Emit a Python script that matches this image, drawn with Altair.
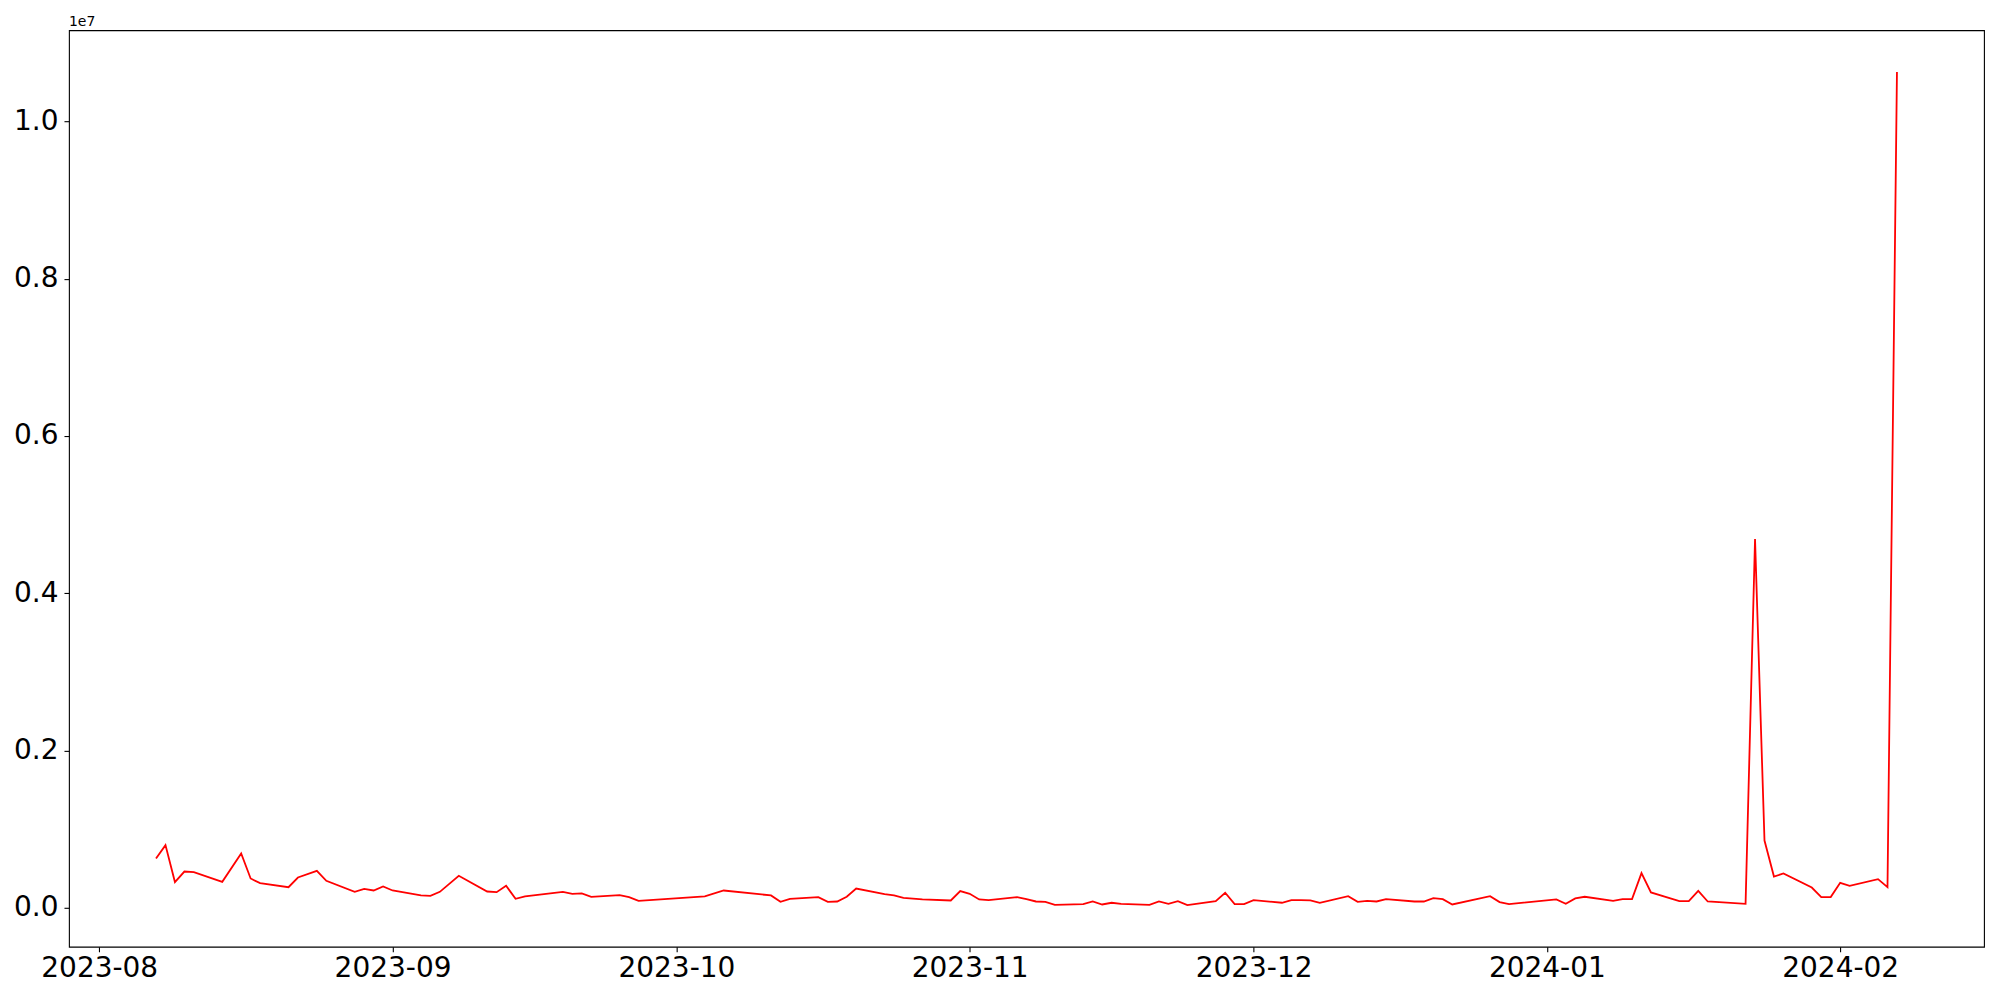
import altair as alt
import pandas as pd

dates = [
    "2023-08-07", "2023-08-08", "2023-08-09", "2023-08-10", "2023-08-11", "2023-08-14",
    "2023-08-16", "2023-08-17", "2023-08-18", "2023-08-21", "2023-08-22", "2023-08-24",
    "2023-08-25", "2023-08-28", "2023-08-29", "2023-08-30", "2023-08-31", "2023-09-01",
    "2023-09-04", "2023-09-05", "2023-09-06", "2023-09-08", "2023-09-11", "2023-09-12",
    "2023-09-13", "2023-09-14", "2023-09-15", "2023-09-19", "2023-09-20", "2023-09-21",
    "2023-09-22", "2023-09-25", "2023-09-26", "2023-09-27", "2023-10-04", "2023-10-06",
    "2023-10-11", "2023-10-12", "2023-10-13", "2023-10-16", "2023-10-17", "2023-10-18",
    "2023-10-19", "2023-10-20", "2023-10-23", "2023-10-24", "2023-10-25", "2023-10-27",
    "2023-10-30", "2023-10-31", "2023-11-01", "2023-11-02", "2023-11-03", "2023-11-06",
    "2023-11-07", "2023-11-08", "2023-11-09", "2023-11-10", "2023-11-13", "2023-11-14",
    "2023-11-15", "2023-11-16", "2023-11-17", "2023-11-20", "2023-11-21", "2023-11-22",
    "2023-11-23", "2023-11-24", "2023-11-27", "2023-11-28", "2023-11-29", "2023-11-30",
    "2023-12-01", "2023-12-04", "2023-12-05", "2023-12-06", "2023-12-07", "2023-12-08",
    "2023-12-11", "2023-12-12", "2023-12-13", "2023-12-14", "2023-12-15", "2023-12-18",
    "2023-12-19", "2023-12-20", "2023-12-21", "2023-12-22", "2023-12-26", "2023-12-27",
    "2023-12-28", "2024-01-02", "2024-01-03", "2024-01-04", "2024-01-05", "2024-01-08",
    "2024-01-09", "2024-01-10", "2024-01-11", "2024-01-12", "2024-01-15", "2024-01-16",
    "2024-01-17", "2024-01-18", "2024-01-22", "2024-01-23", "2024-01-24", "2024-01-25",
    "2024-01-26", "2024-01-29", "2024-01-30", "2024-01-31", "2024-02-01", "2024-02-02",
    "2024-02-05", "2024-02-06", "2024-02-07",
]

values_millions = [
    0.626, 0.797, 0.327, 0.461, 0.453, 0.330,
    0.690, 0.373, 0.313, 0.262, 0.385, 0.470,
    0.343, 0.203, 0.241, 0.220, 0.271, 0.220,
    0.157, 0.152, 0.203, 0.407, 0.207, 0.199,
    0.280, 0.114, 0.144, 0.203, 0.178, 0.182,
    0.140, 0.161, 0.136, 0.089, 0.144, 0.220,
    0.157, 0.076, 0.114, 0.136, 0.076, 0.080,
    0.140, 0.245, 0.174, 0.157, 0.127, 0.106,
    0.093, 0.212, 0.178, 0.106, 0.098, 0.136,
    0.110, 0.080, 0.076, 0.038, 0.047, 0.080,
    0.042, 0.064, 0.051, 0.038, 0.080, 0.051,
    0.085, 0.034, 0.085, 0.191, 0.047, 0.047,
    0.098, 0.064, 0.098, 0.098, 0.093, 0.064,
    0.148, 0.076, 0.089, 0.080, 0.110, 0.080,
    0.080, 0.123, 0.110, 0.042, 0.148, 0.072,
    0.047, 0.106, 0.051, 0.119, 0.140, 0.089,
    0.110, 0.110, 0.441, 0.195, 0.085, 0.085,
    0.216, 0.080, 0.051, 4.690, 0.855, 0.398,
    0.436, 0.258, 0.136, 0.136, 0.318, 0.280,
    0.364, 0.263, 10.630,
]

x_tick_dates = ["2023-08-01", "2023-09-01", "2023-10-01", "2023-11-01",
                "2023-12-01", "2024-01-01", "2024-02-01"]
y_tick_values = [0, 2e6, 4e6, 6e6, 8e6, 10e6]


def ms(s):
    return int(pd.Timestamp(s, tz="UTC").value // 10**6)


df = pd.DataFrame({
    "t": [ms(d) for d in dates],
    "v": [v * 1e6 for v in values_millions],
})

# matplotlib-like 5% margins
t0, t1 = df["t"].min(), df["t"].max()
tr = t1 - t0
x_domain = [t0 - 0.05 * tr, t1 + 0.05 * tr]
v0, v1 = df["v"].min(), df["v"].max()
vr = v1 - v0
y_domain = [v0 - 0.05 * vr, v1 + 0.05 * vr]

FONT = "DejaVu Sans"

line = alt.Chart(df).mark_line(color="#ff0000", strokeWidth=1.8).encode(
    x=alt.X(
        "t:Q",
        scale=alt.Scale(domain=x_domain, nice=False, zero=False),
        axis=alt.Axis(
            values=[ms(d) for d in x_tick_dates],
            labelExpr="utcFormat(datum.value, '%Y-%m')",
            title=None,
            grid=False,
            domain=False,
            tickColor="black",
            tickSize=5,
            tickWidth=1.1,
            labelFont=FONT,
            labelFontSize=28,
            labelColor="black",
            labelPadding=3,
            labelFlush=False,
            labelOverlap=False,
        ),
    ),
    y=alt.Y(
        "v:Q",
        scale=alt.Scale(domain=y_domain, nice=False, zero=False),
        axis=alt.Axis(
            values=y_tick_values,
            labelExpr="format(datum.value / 1e7, '.1f')",
            title=None,
            grid=False,
            domain=False,
            tickColor="black",
            tickSize=5,
            tickWidth=1.1,
            labelFont=FONT,
            labelFontSize=28,
            labelColor="black",
            labelPadding=6,
            labelOverlap=False,
        ),
    ),
)

offset = alt.Chart(pd.DataFrame({"s": ["1e7"]})).mark_text(
    align="left", baseline="alphabetic", font=FONT, fontSize=14, color="black"
).encode(
    x=alt.value(0),
    y=alt.value(-4),
    text="s:N",
)

chart = alt.layer(line, offset).properties(
    width=1916,
    height=917,
    autosize=alt.AutoSizeParams(type="none"),
    padding={"left": 61, "top": 22, "right": 8, "bottom": 40},
).configure_view(
    stroke="black",
    strokeWidth=1.1,
)

chart.save("out.html", embed_options={"renderer": "svg", "actions": False})
